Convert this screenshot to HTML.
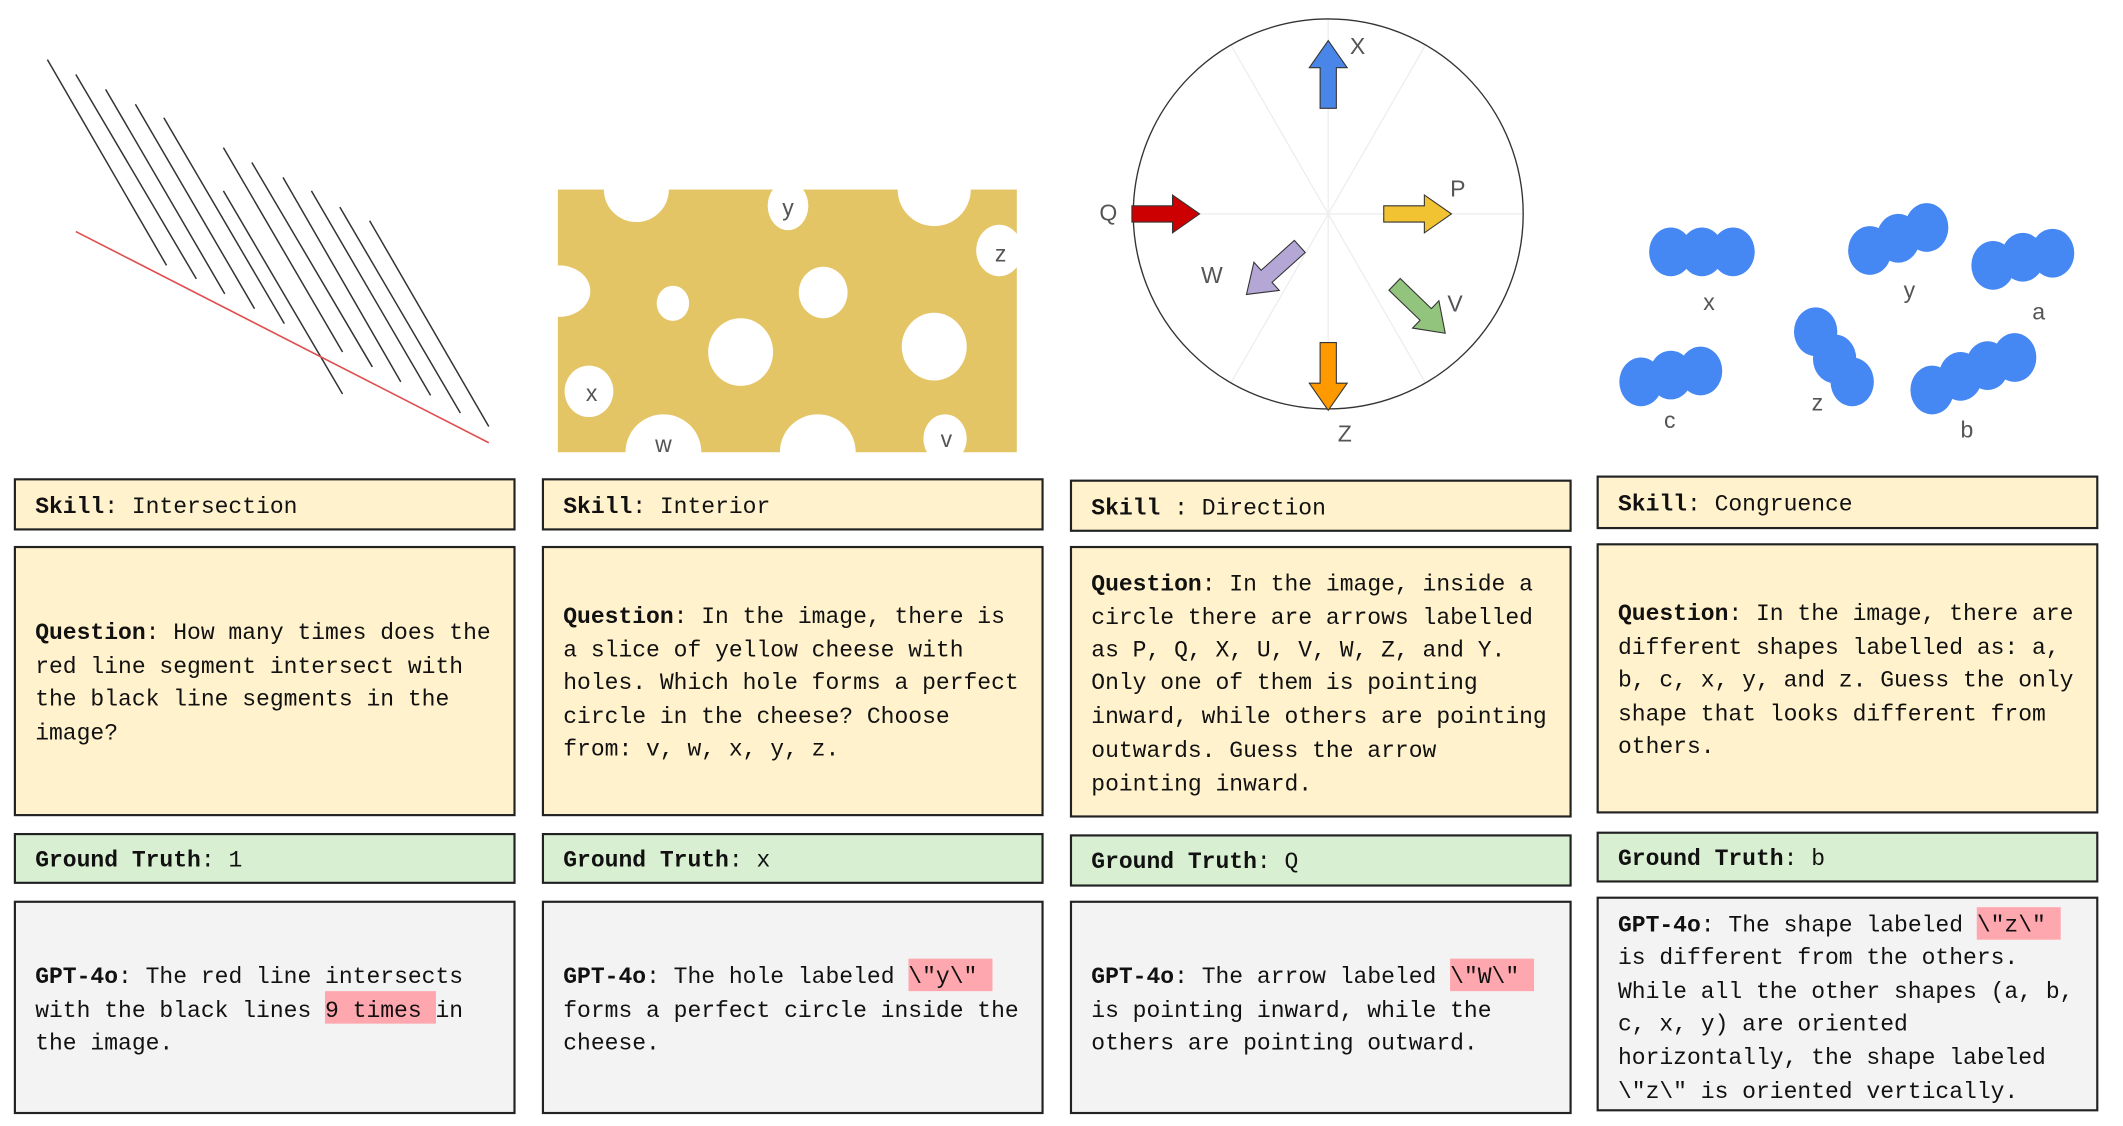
<!DOCTYPE html>
<html><head><meta charset="utf-8"><style>
html,body{margin:0;padding:0;background:#fff;}
svg{display:block;}
text{font-family:"Liberation Mono",monospace;font-size:17px;fill:#111;}
.b{font-weight:bold;}
.lb{font-family:"Liberation Sans",sans-serif;font-size:17px;fill:#555;}
.box{stroke:#222;stroke-width:1.6;}
.y{fill:#fff2cc;}.g{fill:#d9efd2;}.r{fill:#f3f3f3;}
</style></head><body>
<svg width="2123" height="1126" viewBox="0 0 1568 831.6" preserveAspectRatio="none" xmlns="http://www.w3.org/2000/svg">
<g stroke="#333" stroke-width="1.1">
<line x1="35" y1="44" x2="123" y2="196"/><line x1="56" y1="55" x2="145" y2="206"/><line x1="78" y1="66" x2="166" y2="217"/><line x1="100" y1="77" x2="188" y2="228"/><line x1="121" y1="87" x2="210" y2="239"/>
<line x1="165" y1="109" x2="253" y2="260"/><line x1="186" y1="120" x2="275" y2="271"/><line x1="209" y1="131" x2="296" y2="282"/><line x1="230" y1="141" x2="318" y2="292"/><line x1="251" y1="153" x2="340" y2="305"/><line x1="273" y1="163" x2="361" y2="315"/><line x1="165" y1="141" x2="253" y2="291"/>
</g>
<line x1="56" y1="171" x2="361" y2="327" stroke="#e05050" stroke-width="1.2"/>
<rect x="412" y="140" width="339" height="194" fill="#e4c566"/>
<g fill="#fff">
<circle cx="470" cy="140" r="24"/><ellipse cx="582" cy="152" rx="15" ry="18"/><circle cx="690" cy="140" r="27"/><ellipse cx="738" cy="185" rx="17" ry="19"/>
<ellipse cx="413" cy="215" rx="23" ry="19"/><ellipse cx="497" cy="224" rx="12" ry="13"/><ellipse cx="608" cy="216" rx="18" ry="19"/><ellipse cx="547" cy="260" rx="24" ry="25"/><ellipse cx="690" cy="256" rx="24" ry="25"/>
<ellipse cx="435" cy="289" rx="18" ry="19"/><ellipse cx="490" cy="334" rx="28" ry="28"/><ellipse cx="604" cy="334" rx="28" ry="28"/><ellipse cx="698" cy="324" rx="16" ry="18"/>
</g>
<g text-anchor="middle"><text class="lb" x="582" y="159">y</text><text class="lb" x="739" y="193">z</text><text class="lb" x="437" y="296">x</text><text class="lb" x="490" y="334">w</text><text class="lb" x="699" y="330">v</text></g>
<g stroke="#eee" stroke-width="1"><line x1="981" y1="14" x2="981" y2="302"/><line x1="837" y1="158" x2="1125" y2="158"/><line x1="909" y1="33" x2="1053" y2="283"/><line x1="1053" y1="33" x2="909" y2="283"/></g>
<circle cx="981" cy="158" r="144" fill="none" stroke="#333" stroke-width="1"/>
<g stroke="#333" stroke-width="0.8">
<polygon transform="translate(981,80) rotate(-90)" points="0,-6 30,-6 30,-14 50,0 30,14 30,6 0,6" fill="#4a86e8"/>
<polygon transform="translate(836,158)" points="0,-6 30,-6 30,-14 50,0 30,14 30,6 0,6" fill="#cc0000"/>
<polygon transform="translate(1022,158)" points="0,-6 30,-6 30,-14 50,0 30,14 30,6 0,6" fill="#f1c232"/>
<polygon transform="translate(981,253) rotate(90)" points="0,-6 30,-6 30,-14 50,0 30,14 30,6 0,6" fill="#ff9900"/>
<polygon transform="translate(960,182) rotate(138)" points="0,-6 33,-6 33,-14 53,0 33,14 33,6 0,6" fill="#b4a7d6"/>
<polygon transform="translate(1030,210) rotate(44)" points="0,-6 32,-6 32,-14 52,0 32,14 32,6 0,6" fill="#93c47d"/>
</g>
<g><text class="lb" x="997" y="40">X</text><text class="lb" x="812" y="163">Q</text><text class="lb" x="1071" y="145">P</text><text class="lb" x="887" y="209">W</text><text class="lb" x="1069" y="230">V</text><text class="lb" x="988" y="326">Z</text></g>
<g fill="#4587f3">
<ellipse cx="1234" cy="186" rx="16" ry="18"/><ellipse cx="1257" cy="186" rx="16" ry="18"/><ellipse cx="1280" cy="186" rx="16" ry="18"/>
<ellipse cx="1381" cy="185" rx="16" ry="18"/><ellipse cx="1402" cy="176" rx="16" ry="18"/><ellipse cx="1423" cy="168" rx="16" ry="18"/>
<ellipse cx="1472" cy="196" rx="16" ry="18"/><ellipse cx="1494" cy="190" rx="16" ry="18"/><ellipse cx="1516" cy="187" rx="16" ry="18"/>
<ellipse cx="1212" cy="282" rx="16" ry="18"/><ellipse cx="1234" cy="277" rx="16" ry="18"/><ellipse cx="1256" cy="274" rx="16" ry="18"/>
<ellipse cx="1341" cy="245" rx="16" ry="18"/><ellipse cx="1355" cy="265" rx="16" ry="18"/><ellipse cx="1368" cy="282" rx="16" ry="18"/>
<ellipse cx="1427" cy="288" rx="16" ry="18"/><ellipse cx="1448" cy="278" rx="16" ry="18"/><ellipse cx="1468" cy="270" rx="16" ry="18"/><ellipse cx="1488" cy="264" rx="16" ry="18"/>
</g>
<g><text class="lb" x="1258" y="229">x</text><text class="lb" x="1406" y="220">y</text><text class="lb" x="1501" y="236">a</text><text class="lb" x="1229" y="316">c</text><text class="lb" x="1338" y="303">z</text><text class="lb" x="1448" y="323">b</text></g>

<rect class="box y" x="11" y="354" width="369" height="37"/>
<rect class="box y" x="11" y="404" width="369" height="198"/>
<rect class="box g" x="11" y="616" width="369" height="36"/>
<rect class="box r" x="11" y="666" width="369" height="156"/>
<rect class="box y" x="401" y="354" width="369" height="37"/>
<rect class="box y" x="401" y="404" width="369" height="198"/>
<rect class="box g" x="401" y="616" width="369" height="36"/>
<rect class="box r" x="401" y="666" width="369" height="156"/>
<rect class="box y" x="791" y="355" width="369" height="37"/>
<rect class="box y" x="791" y="404" width="369" height="199"/>
<rect class="box g" x="791" y="617" width="369" height="37"/>
<rect class="box r" x="791" y="666" width="369" height="156"/>
<rect class="box y" x="1180" y="352" width="369" height="38"/>
<rect class="box y" x="1180" y="402" width="369" height="198"/>
<rect class="box g" x="1180" y="615" width="369" height="36"/>
<rect class="box r" x="1180" y="663" width="369" height="157"/>

<g fill="#ffa7ae">
<rect x="240" y="732" width="82" height="24"/>
<rect x="671" y="708" width="62" height="24"/>
<rect x="1071" y="708" width="62" height="24"/>
<rect x="1460" y="670" width="62" height="24"/>
</g>

<text x="26" y="379"><tspan class="b">Skill</tspan>: Intersection</text>
<text x="26" y="472"><tspan class="b">Question</tspan>: How many times does the</text>
<text x="26" y="497">red line segment intersect with</text>
<text x="26" y="521">the black line segments in the</text>
<text x="26" y="546">image?</text>
<text x="26" y="640"><tspan class="b">Ground Truth</tspan>: 1</text>
<text x="26" y="726"><tspan class="b">GPT-4o</tspan>: The red line intersects</text>
<text x="26" y="751">with the black lines 9 times in</text>
<text x="26" y="775">the image.</text>
<text x="416" y="379"><tspan class="b">Skill</tspan>: Interior</text>
<text x="416" y="460"><tspan class="b">Question</tspan>: In the image, there is</text>
<text x="416" y="485">a slice of yellow cheese with</text>
<text x="416" y="509">holes. Which hole forms a perfect</text>
<text x="416" y="534">circle in the cheese? Choose</text>
<text x="416" y="558">from: v, w, x, y, z.</text>
<text x="416" y="640"><tspan class="b">Ground Truth</tspan>: x</text>
<text x="416" y="726"><tspan class="b">GPT-4o</tspan>: The hole labeled \"y\"</text>
<text x="416" y="751">forms a perfect circle inside the</text>
<text x="416" y="775">cheese.</text>
<text x="806" y="380"><tspan class="b">Skill</tspan> : Direction</text>
<text x="806" y="436"><tspan class="b">Question</tspan>: In the image, inside a</text>
<text x="806" y="461">circle there are arrows labelled</text>
<text x="806" y="485">as P, Q, X, U, V, W, Z, and Y.</text>
<text x="806" y="509">Only one of them is pointing</text>
<text x="806" y="534">inward, while others are pointing</text>
<text x="806" y="559">outwards. Guess the arrow</text>
<text x="806" y="584">pointing inward.</text>
<text x="806" y="641"><tspan class="b">Ground Truth</tspan>: Q</text>
<text x="806" y="726"><tspan class="b">GPT-4o</tspan>: The arrow labeled \"W\"</text>
<text x="806" y="751">is pointing inward, while the</text>
<text x="806" y="775">others are pointing outward.</text>
<text x="1195" y="377"><tspan class="b">Skill</tspan>: Congruence</text>
<text x="1195" y="458"><tspan class="b">Question</tspan>: In the image, there are</text>
<text x="1195" y="483">different shapes labelled as: a,</text>
<text x="1195" y="507">b, c, x, y, and z. Guess the only</text>
<text x="1195" y="532">shape that looks different from</text>
<text x="1195" y="556">others.</text>
<text x="1195" y="639"><tspan class="b">Ground Truth</tspan>: b</text>
<text x="1195" y="688"><tspan class="b">GPT-4o</tspan>: The shape labeled \"z\"</text>
<text x="1195" y="712">is different from the others.</text>
<text x="1195" y="737">While all the other shapes (a, b,</text>
<text x="1195" y="761">c, x, y) are oriented</text>
<text x="1195" y="786">horizontally, the shape labeled</text>
<text x="1195" y="811">\"z\" is oriented vertically.</text>
</svg>
</body></html>
